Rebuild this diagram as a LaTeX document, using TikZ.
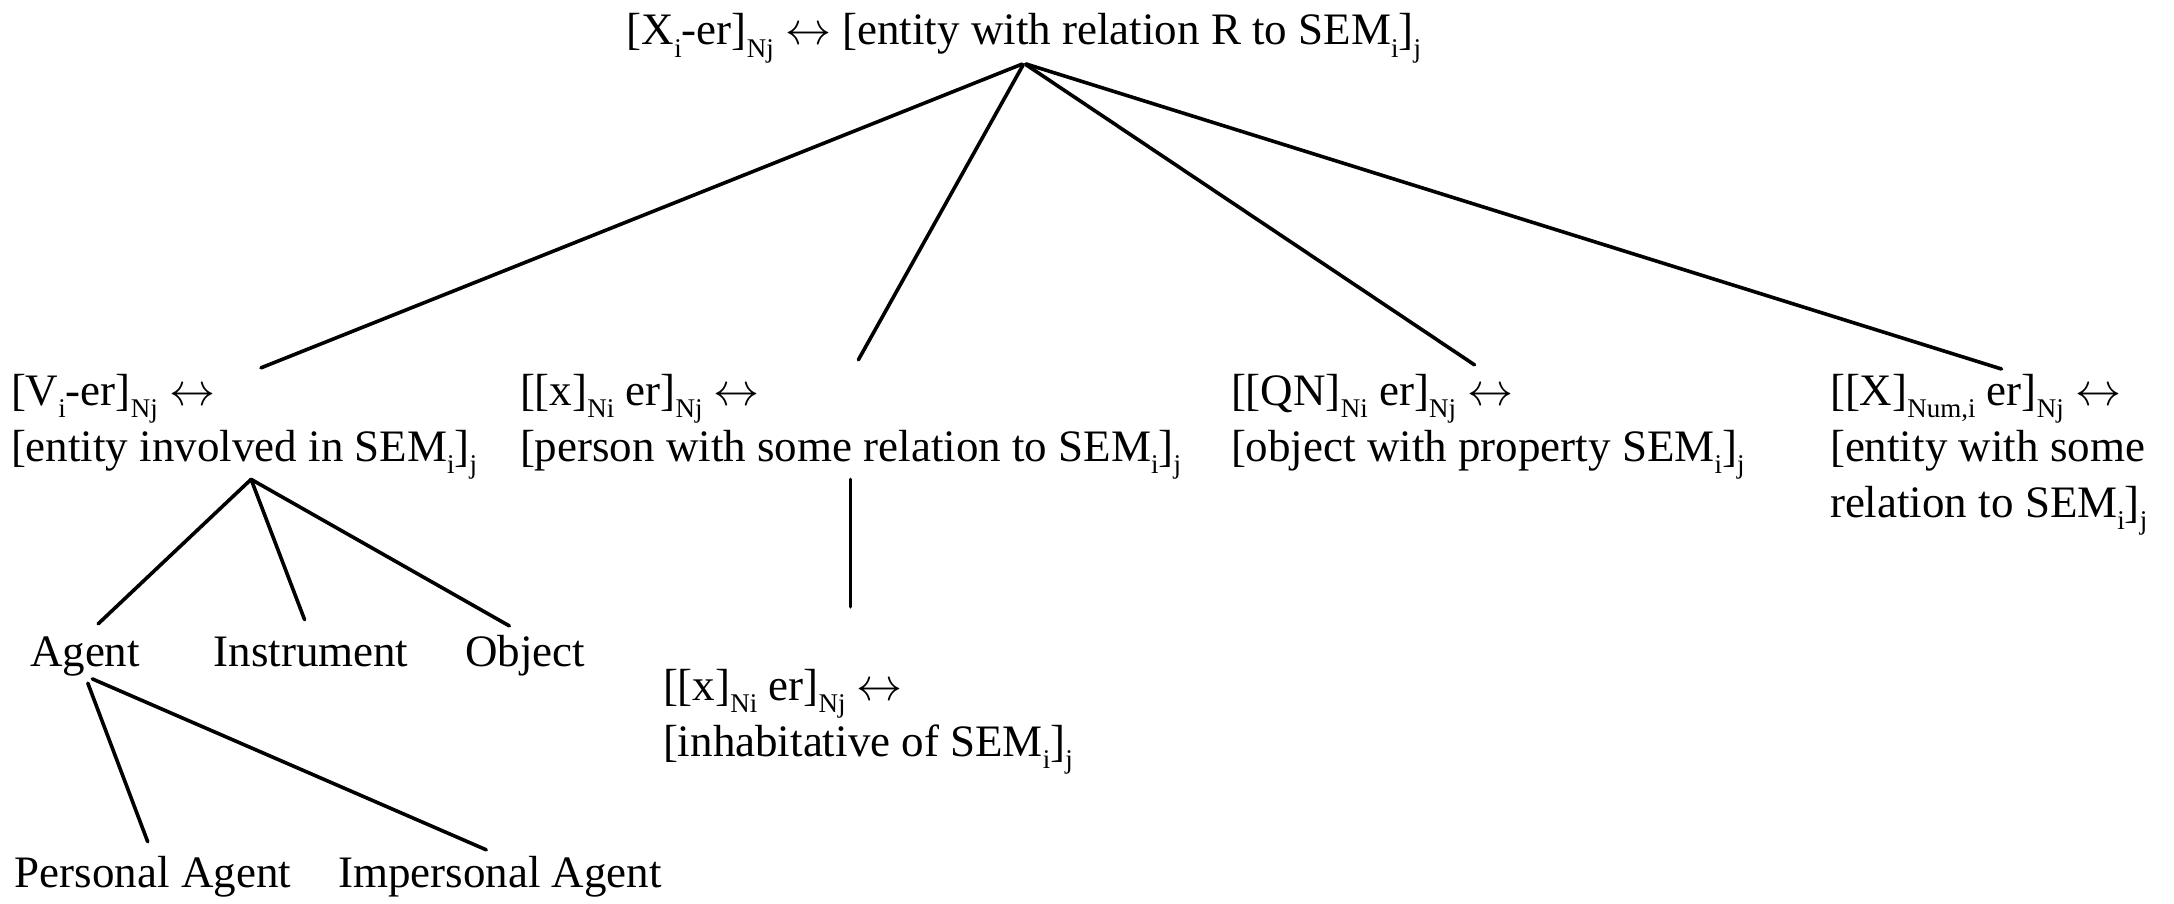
\documentclass[tikz,border=0pt]{standalone}
\usepackage{graphicx}
\usepackage{fontspec}
\setmainfont{Liberation Serif}
\usetikzlibrary{calc}
% lowered, smaller index text
\newcommand\lo[1]{\raisebox{-0.28em}{\fontsize{27}{27}\selectfont #1}}
% correspondence arrow, drawn at 10pt and enlarged
\newcommand\lra{\scalebox{4.6}{\fontsize{10}{12}\selectfont$\leftrightarrow$}}
\begin{document}
\begin{tikzpicture}[x=1pt,y=-1pt,
  lbl/.style={inner sep=0pt, outer sep=0pt, align=left,
              font=\fontsize{45}{56}\selectfont, anchor=base west},
  word/.style={lbl, anchor=base},
  branch/.style={line width=3.6pt, line cap=round},
]
\fill[white] (0,0) rectangle (2174,904);
\useasboundingbox (0,0) rectangle (2174,904);

% root schema
\node[word] (root) at (1024,45)
  {[X\lo{i}-er]\lo{Nj} \lra{} [entity with relation R to SEM\lo{i}]\lo{j}};

% first-level schemas (anchored at the baseline of their last line)
\node[lbl] (vi) at (11,461)
  {[V\lo{i}-er]\lo{Nj} \lra\\{}[entity involved in SEM\lo{i}]\lo{j}};
\node[lbl] (xn) at (520,461)
  {[[x]\lo{Ni} er]\lo{Nj} \lra\\{}[person with some relation to SEM\lo{i}]\lo{j}};
\node[lbl] (qn) at (1231,461)
  {[[QN]\lo{Ni} er]\lo{Nj} \lra\\{}[object with property SEM\lo{i}]\lo{j}};
\node[lbl] (num) at (1830,517)
  {[[X]\lo{Num,i} er]\lo{Nj} \lra\\{}[entity with some\\ relation to SEM\lo{i}]\lo{j}};

% sub-schemas
\node[word] (agent) at (85,666) {Agent};
\node[word] (instr) at (311,666) {Instrument};
\node[word] (obj)   at (525,666) {Object};
\node[lbl] (inh) at (663,756)
  {[[x]\lo{Ni} er]\lo{Nj} \lra\\{}[inhabitative of SEM\lo{i}]\lo{j}};
\node[word] (pers) at (153,887) {Personal Agent};
\node[word] (imp)  at (500,887) {Impersonal Agent};

% branches
\begin{scope}[branch]
  \draw[shorten <=2pt, shorten >=16pt] (root.south) -- ([xshift=2pt]vi.north);
  \draw[shorten <=2pt, shorten >=16pt] (root.south) -- (xn.north);
  \draw[shorten <=2pt, shorten >=16pt] (root.south) -- (qn.north);
  \draw[shorten <=2pt, shorten >=16pt] (root.south) -- ([xshift=28pt]num.north);

  \draw[shorten >=18pt] ([xshift=7pt]vi.south) -- (agent.north);
  \draw[shorten >=18pt] ([xshift=7pt]vi.south) -- (instr.north);
  \draw[shorten >=18pt] ([xshift=7pt]vi.south) -- (obj.north);

  \draw[shorten <=8pt, shorten >=15pt] (agent.south) -- (pers.north);
  \draw[shorten <=8pt, shorten >=15pt] (agent.south) -- (imp.north);

  \draw[shorten >=62pt] (xn.south) -- (xn.south |- inh.north);
\end{scope}
\end{tikzpicture}
\end{document}
